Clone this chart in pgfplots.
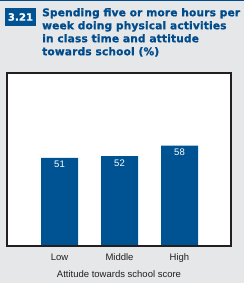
\documentclass[border=0pt]{standalone}
\usepackage{fontspec}
\setmainfont{Liberation Sans}
\newfontfamily\titlefont[LetterSpace=1.6,FakeBold=1.2]{DejaVu Sans Bold}
\usepackage{pgfplots}
\pgfplotsset{compat=1.18}
\definecolor{bgc}{RGB}{230,231,232}
\definecolor{barblue}{RGB}{0,83,146}
\definecolor{titleblue}{RGB}{0,76,140}
\definecolor{framec}{RGB}{35,31,32}
\begin{document}
\begin{tikzpicture}[x=1pt,y=1pt]
\fill[bgc] (0,0) rectangle (244,283);
\useasboundingbox (0,0) rectangle (244,283);
\fill[titleblue] (0,282) rectangle (244,283);
\fill[barblue] (5,257) rectangle (36,275);
\node[white, inner sep=0, font=\titlefont\fontsize{10}{12}\selectfont] at (20.5,266) {3.21};
\node[anchor=north west, align=left, inner sep=0, text=titleblue, font=\titlefont\fontsize{10.6}{13}\selectfont] at (42,275) {Spending five or more hours per\\week doing physical activities\\in class time and attitude\\towards school (\%)};
\begin{axis}[
  at={(7pt,37pt)}, anchor=south west,
  scale only axis, width=224pt, height=173pt,
  ymin=0, ymax=100, xmin=-0.875, xmax=2.8583,
  axis background/.style={fill=white},
  axis line style={line width=2pt, draw=framec},
  axis on top,
  ytick=\empty,
  xtick={0,1,2}, xticklabels={Low,Middle,High},
  major tick length=0pt,
  /pgf/number format/assume math mode=true,
  xticklabel style={font=\fontsize{9.5}{11}\selectfont, text=framec, yshift=-4pt},
  xlabel={Attitude towards school score},
  xlabel style={font=\fontsize{9.5}{11}\selectfont, text=framec, yshift=-1.5pt},
  ybar, bar width=37pt,
  nodes near coords,
  every node near coord/.append style={anchor=north, text=white, font=\fontsize{9.5}{11}\selectfont},
]
\addplot[fill=barblue, draw=none] coordinates {(0,51) (1,52) (2,58)};
\end{axis}
\end{tikzpicture}
\end{document}
